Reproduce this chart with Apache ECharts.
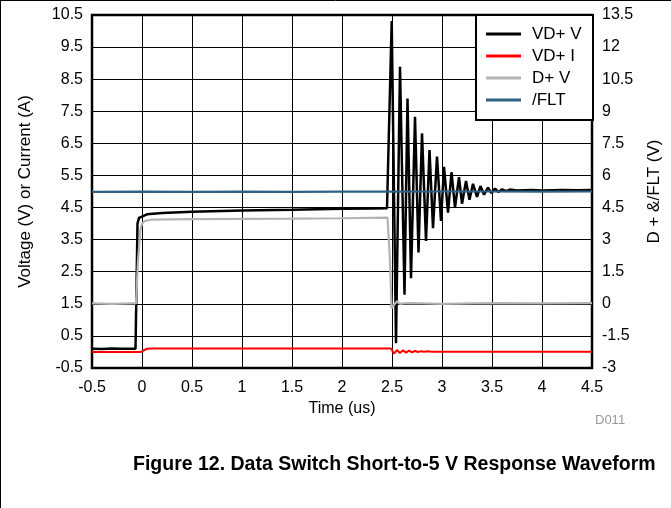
<!DOCTYPE html>
<html>
<head>
<meta charset="utf-8">
<script src="https://cdn.jsdelivr.net/npm/echarts@6/dist/echarts.min.js"></script>
<style>html,body{margin:0;padding:0;background:#fff}#c{width:671px;height:508px}</style>
</head>
<body>
<div id="c"></div>
<script>
// ---- data (time in us) ----
const seriesNames = ['VD+ V', 'VD+ I', 'D+ V', '/FLT'];
const xTicks = { min: -0.5, max: 4.5, step: 0.5 };
const leftTicks = { min: -0.5, max: 10.5, step: 1 };
const rightTicks = { min: -3, max: 13.5, step: 1.5 };

// VD+ V (left axis, V)
const vdV = [
  [-0.5,0.1],[-0.4,0.09],[-0.3,0.11],[-0.2,0.1],[-0.1,0.1],[-0.065,0.1],[-0.055,2.0],[-0.045,4.0],
  [-0.03,4.18],[-0.01,4.24],[0.05,4.29],[0.2,4.33],[0.5,4.37],[1.0,4.41],[1.5,4.43],[2.0,4.46],
  [2.3,4.47],[2.45,4.48],[2.497,10.31],[2.54,0.27],[2.58,8.89],[2.625,1.78],[2.655,7.9],[2.69,2.3],
  [2.73,7.33],[2.765,3.1],[2.80,6.81],[2.84,3.46],[2.875,6.29],[2.91,3.86],[2.95,6.09],[2.99,4.08],
  [3.02,5.77],[3.06,4.34],[3.095,5.6],[3.13,4.5],[3.17,5.45],[3.20,4.62],[3.24,5.33],[3.275,4.74],
  [3.31,5.24],[3.35,4.83],[3.385,5.17],[3.42,4.9],[3.46,5.12],[3.495,4.95],[3.53,5.09],[3.565,4.98],
  [3.60,5.07],[3.64,5.01],[3.68,5.06],[3.75,5.03],[3.9,5.05],[4.0,5.03],[4.2,5.05],[4.35,5.04],[4.5,5.05]
];
// VD+ I (left axis, A)
const vdI = [
  [-0.5,0.0],[-0.01,0.0],[0.05,0.1],[0.1,0.11],[1.0,0.11],[2.0,0.11],[2.49,0.11],[2.52,-0.05],
  [2.55,0.06],[2.58,-0.03],[2.61,0.05],[2.64,-0.02],[2.67,0.04],[2.70,-0.01],[2.73,0.03],[2.76,0.0],
  [2.79,0.025],[2.82,0.005],[2.85,0.02],[2.9,0.01],[4.5,0.01]
];
// D+ V (right axis, V)
const dpV = [
  [-0.5,0.02],[-0.3,0.0],[-0.1,0.02],[-0.06,0.02],[-0.04,2.0],[-0.015,3.5],[0.0,3.75],[0.03,3.88],
  [0.1,3.94],[0.5,3.96],[1.0,3.97],[1.5,3.98],[2.0,4.0],[2.455,4.03],[2.48,2.0],[2.495,-0.2],
  [2.52,-0.05],[2.55,0.12],[2.58,0.0],[2.62,0.02],[2.7,0.03],[3.0,0.0],[3.5,0.03],[4.0,0.02],[4.5,0.03]
];
// /FLT (right axis, V)
const flt = [
  [-0.5,5.23],[0.0,5.24],[0.5,5.23],[1.0,5.24],[1.5,5.23],[2.0,5.24],[2.5,5.24],[3.0,5.25],
  [3.5,5.25],[4.0,5.24],[4.5,5.25]
];
const colors = ['#000000', '#ff0000', '#b3b3b3', '#2f6082'];

const FONT = "'Liberation Sans', Arial, sans-serif";
const chart = echarts.init(document.getElementById('c'));
const lab = { color: '#000', fontSize: 16, fontFamily: FONT };
chart.setOption({
  animation: false,
  grid: { left: 92, right: 78, top: 15, bottom: 140, show: true, borderColor: '#000', borderWidth: 2.5, backgroundColor: 'transparent' },
  title: {
    text: 'Figure 12. Data Switch Short-to-5 V Response Waveform',
    left: 128, top: 450,
    textStyle: { fontFamily: FONT, fontSize: 19.5, fontWeight: 'bold', color: '#000' }
  },
  legend: {
    orient: 'vertical', left: 486, top: 23, padding: 0, itemGap: 0, z: 20,
    icon: 'rect', itemWidth: 35, itemHeight: 3,
    data: seriesNames,
    textStyle: { fontFamily: FONT, fontSize: 17, color: '#000', lineHeight: 22, padding: [0,0,0,6] }
  },
  xAxis: {
    type: 'value', min: xTicks.min, max: xTicks.max, interval: xTicks.step,
    name: 'Time (us)', nameLocation: 'middle', nameGap: 28,
    nameTextStyle: { fontFamily: FONT, fontSize: 16, color: '#000' },
    axisLine: { show: false }, axisTick: { show: false },
    axisLabel: Object.assign({ margin: 12 }, lab),
    splitLine: { show: true, lineStyle: { color: '#000', width: 1 } }
  },
  yAxis: [{
    type: 'value', min: leftTicks.min, max: leftTicks.max, interval: leftTicks.step,
    name: 'Voltage (V) or Current (A)', nameLocation: 'middle', nameGap: 58,
    nameTextStyle: { fontFamily: FONT, fontSize: 17, color: '#000' },
    axisLine: { show: false }, axisTick: { show: false },
    axisLabel: Object.assign({ margin: 9 }, lab),
    splitLine: { show: true, lineStyle: { color: '#000', width: 1 } }
  }, {
    type: 'value', min: rightTicks.min, max: rightTicks.max, interval: rightTicks.step, position: 'right',
    name: 'D + &/FLT (V)', nameLocation: 'middle', nameGap: 54,
    nameTextStyle: { fontFamily: FONT, fontSize: 17, color: '#000' },
    axisLine: { show: false }, axisTick: { show: false },
    axisLabel: Object.assign({ margin: 10 }, lab),
    splitLine: { show: false }
  }],
  graphic: [
    { type: 'rect', z: 10, shape: { x: 476, y: 15, width: 117, height: 105 }, style: { fill: '#fff', stroke: '#000', lineWidth: 2 } },
    { type: 'text', z: 10, left: 595, top: 414, style: { text: 'D011', fill: '#999', font: "13px 'Liberation Sans', Arial, sans-serif" } },
    { type: 'line', z: 10, shape: { x1: 0, y1: 0.5, x2: 671, y2: 0.5 }, style: { stroke: '#000', lineWidth: 1 } },
    { type: 'line', z: 10, shape: { x1: 0.5, y1: 0, x2: 0.5, y2: 508 }, style: { stroke: '#000', lineWidth: 1 } }
  ],
  series: [
    { name: seriesNames[0], type: 'line', yAxisIndex: 0, data: vdV, showSymbol: false, symbol: 'none', color: colors[0], lineStyle: { width: 2.5, color: colors[0] } },
    { name: seriesNames[1], type: 'line', yAxisIndex: 0, data: vdI, showSymbol: false, symbol: 'none', color: colors[1], lineStyle: { width: 2, color: colors[1] } },
    { name: seriesNames[2], type: 'line', yAxisIndex: 1, data: dpV, showSymbol: false, symbol: 'none', color: colors[2], lineStyle: { width: 2.2, color: colors[2] } },
    { name: seriesNames[3], type: 'line', yAxisIndex: 1, data: flt, showSymbol: false, symbol: 'none', color: colors[3], lineStyle: { width: 2.2, color: colors[3] } }
  ]
});
</script>
</body>
</html>
